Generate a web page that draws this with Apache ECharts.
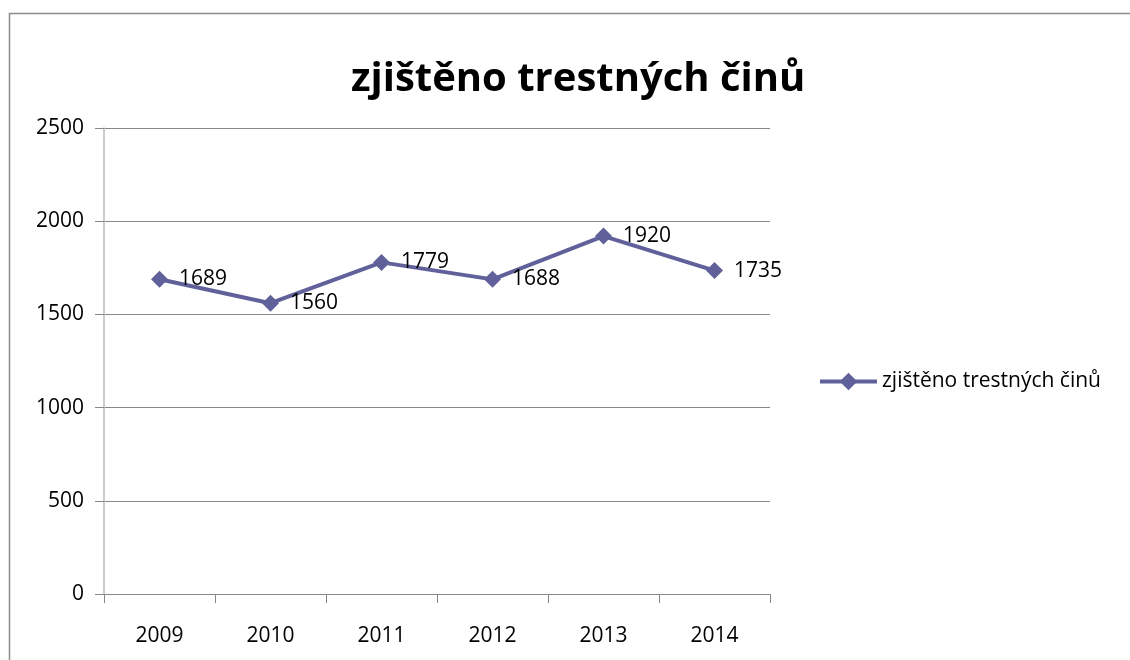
<!DOCTYPE html>
<html><head><meta charset="utf-8">
<script src="https://cdn.jsdelivr.net/npm/echarts@6/dist/echarts.min.js"></script>
<style>html,body{margin:0;padding:0;background:#fff}#c{width:1130px;height:660px}</style>
</head><body><div id="c"></div>
<script>
const titleText = 'zjištěno trestných činů';
const seriesName = 'zjištěno trestných činů';
const categories = ['2009','2010','2011','2012','2013','2014'];
const values = [1689, 1560, 1779, 1688, 1920, 1735];
const yTicks = [0, 500, 1000, 1500, 2000, 2500];
const font = 'Open Sans';
const chart = echarts.init(document.getElementById('c'));
chart.setOption({
  animation: false,
  backgroundColor: '#fff',
  graphic: [{type:'rect', shape:{x:9.5,y:13.5,width:1200,height:700}, style:{fill:'none',stroke:'#8c8c8c',lineWidth:1.5}, z:-1}],
  title: {text: titleText, left: 346, top: 55, textStyle:{fontFamily:font, fontSize:40, fontWeight:'bold', color:'#000'}},
  legend: {data:[seriesName], orient:'vertical', left: 813, top: 366, itemWidth: 57, itemHeight: 22, itemGap: 6,
    lineStyle:{width:4}, textStyle:{fontFamily:font, fontSize:21, color:'#000'}},
  grid: {left: 104, top: 128, width: 666, height: 466, containLabel:false},
  xAxis: {type:'category', data: categories, boundaryGap:true,
    axisLine:{lineStyle:{color:'#888', width:1}},
    axisTick:{show:true, alignWithLabel:false, length:9, lineStyle:{color:'#888'}},
    axisLabel:{fontFamily:font, fontSize:21, color:'#000', margin:32}},
  yAxis: {type:'value', min: yTicks[0], max: yTicks[yTicks.length-1], interval: 500,
    axisLine:{show:true, lineStyle:{color:'#bbb', width:1.5}},
    axisTick:{show:true, length:9, lineStyle:{color:'#888'}},
    splitLine:{lineStyle:{color:'#888', width:1}},
    axisLabel:{fontFamily:font, fontSize:21, color:'#000', margin:20, formatter: v => String(v)}},
  series: [{name: seriesName, type:'line', data: values, symbol:'diamond', symbolSize:17,
    lineStyle:{color:'#60609a', width:4}, itemStyle:{color:'#60609a'},
    label:{show:true, position:'right', distance:11, fontFamily:font, fontSize:21, color:'#000'}}]
});
</script></body></html>
